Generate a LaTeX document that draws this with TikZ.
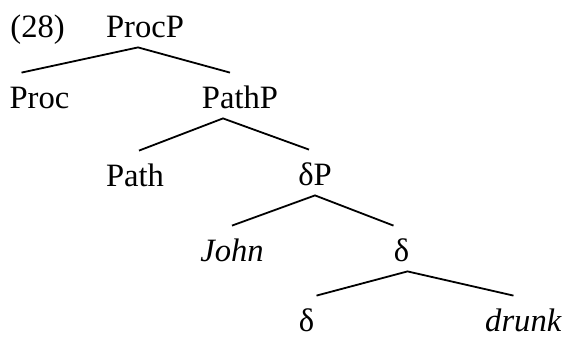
\documentclass[tikz,border=0pt]{standalone}
\usepackage{fontspec}
\setmainfont{Liberation Serif}
\usepackage{tikz}
\tikzstyle{cat} = [anchor=base, inner sep=0pt, text height=17.5pt,
    text depth=5pt]
\tikzstyle{branch} = [line width=0.9pt]

\begin{document}
\begin{tikzpicture}[x=0.5pt, y=-0.5pt, font=\fontsize{16.3}{19}\selectfont]
  \useasboundingbox (0,0) rectangle (567,338);
  % Place nodes
  \node [cat, anchor=base west] (num) at (10,37) {(28)};
  \node [cat] (procp) at (145,37) {ProcP};
  \node [cat] (proc) at (39.5,108) {Proc};
  \node [cat] (pathp) at (240,108) {PathP};
  \node [cat] (path) at (135,186) {Path};
  \node [cat] (dp) at (315,185) {δP};
  \node [cat] (john) at (232,261) {\textit{John}};
  \node [cat] (d) at (401.5,261) {δ};
  \node [cat] (dd) at (306.5,331) {δ};
  \node [cat] (drunk) at (523.5,331) {\textit{drunk}};
  % Branches
  \draw[branch] ([xshift=-9pt]proc.north) -- ([xshift=-3.5pt]procp.south)
    -- ([xshift=-5pt]pathp.north);
  \draw[branch] ([xshift=2pt]path.north) -- ([xshift=-8.5pt]pathp.south)
    -- ([xshift=-3pt]dp.north);
  \draw[branch] (john.north) -- (dp.south) -- ([xshift=-4pt]d.north);
  \draw[branch] ([xshift=5pt]dd.north) -- ([xshift=3pt]d.south)
    -- ([xshift=-5pt]drunk.north);
\end{tikzpicture}
\end{document}
